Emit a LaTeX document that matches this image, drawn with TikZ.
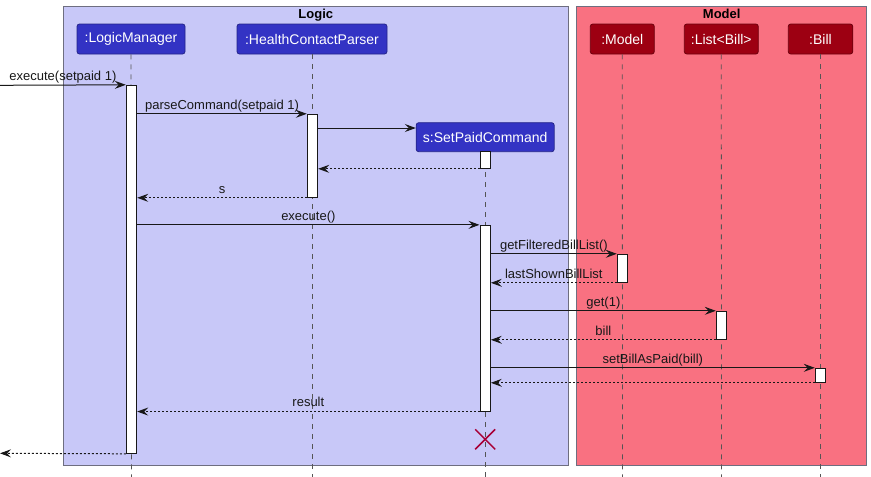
\documentclass[tikz,border=0pt]{standalone}
\usepackage{fontspec}
\setmainfont{Liberation Sans}
\usetikzlibrary{arrows.meta}
\definecolor{logicbg}{HTML}{C8C8F8}
\definecolor{modelbg}{HTML}{F97181}
\definecolor{logicpart}{HTML}{3333C4}
\definecolor{modelpart}{HTML}{9D0012}
\definecolor{boxline}{HTML}{6E6E80}
\definecolor{ink}{HTML}{181818}
\definecolor{lifeline}{HTML}{555555}
\definecolor{destroyc}{HTML}{A80036}
\tikzset{
  grpbox/.style={draw=boxline, line width=1pt},
  grptitle/.style={font=\bfseries\fontsize{13}{15}\selectfont, text=black, inner sep=0pt,
    text height=9.5pt, text depth=0pt},
  part/.style={rectangle, rounded corners=2.5pt, draw=#1!70!black, fill=#1, text=white,
    font=\fontsize{14}{16}\selectfont, minimum height=30pt, inner sep=0pt, line width=0.8pt},
  lifel/.style={draw=lifeline, dash pattern=on 5pt off 5pt, line width=0.8pt},
  actbar/.style={rectangle, draw=ink, fill=white, minimum width=10.4pt, inner sep=0pt, line width=1pt},
  msg/.style={draw=ink, line width=1pt, -{Stealth[length=11pt,width=8pt,inset=4pt]}},
  ret/.style={msg, dash pattern=on 2pt off 2pt},
  lbl/.style={font=\fontsize{13}{15}\selectfont, text=ink, inner sep=0pt, anchor=south,
    text height=9.5pt, text depth=2.8pt, yshift=1.3pt},
}
\begin{document}
\begin{tikzpicture}[x=1pt, y=-1pt]
\useasboundingbox (0,0) rectangle (871,477);
% group boxes
\draw[grpbox, fill=logicbg] (63.3,6) rectangle (568.3,465);
\draw[grpbox, fill=modelbg] (576.7,6) rectangle (866.7,465);
\node[grptitle] (tlogic) at (315.8,13.4) {Logic};
\node[grptitle] (tmodel) at (721.7,13.4) {Model};
% participants
\node[part=logicpart, minimum width=108pt] (lm) at (131,39) {:LogicManager};
\node[part=logicpart, minimum width=150pt] (hcp) at (312,39) {:HealthContactParser};
\node[part=logicpart, minimum width=138pt, minimum height=29pt] (spc) at (485.2,137.2) {s:SetPaidCommand};
\node[part=modelpart, minimum width=64pt] (mdl) at (622.3,39) {:Model};
\node[part=modelpart, minimum width=74pt] (lst) at (721.3,39) {:List<Bill>};
\node[part=modelpart, minimum width=64.5pt] (bll) at (820.5,39) {:Bill};
% lifeline ends
\coordinate (lmEnd) at (131.5,477);
\coordinate (hcpEnd) at (312,477);
\coordinate (spcEnd) at (485.2,477);
\coordinate (mdlEnd) at (622.5,477);
\coordinate (lstEnd) at (721.5,477);
\coordinate (bllEnd) at (820.5,477);
\draw[lifel] (lm.south) -- (lmEnd);
\draw[lifel] (hcp.south) -- (hcpEnd);
\draw[lifel] (spc.south) -- (spcEnd);
\draw[lifel] (mdl.south) -- (mdlEnd);
\draw[lifel] (lst.south) -- (lstEnd);
\draw[lifel] (bll.south) -- (bllEnd);
% activation bars
\node[actbar, minimum height=368pt] (lmA) at (131.5,269.3) {};
\node[actbar, minimum height=83pt] (hcpA) at (312.5,155.8) {};
\node[actbar, minimum height=16.6pt] (spcA) at (485.2,160) {};
\node[actbar, minimum height=185.7pt] (spcB) at (485.2,318.2) {};
\node[actbar, minimum height=28pt] (mdlA) at (622.5,268.3) {};
\node[actbar, minimum height=28pt] (lstA) at (721.5,325.3) {};
\node[actbar, minimum height=14pt] (bllA) at (820.5,375.3) {};
% free ends
\coordinate (inStart) at (0,85.3);
\coordinate (outEnd) at (0,453.3);
\coordinate (createY) at (0,128);
% messages
\draw[msg] (inStart) -- (lmA.north west) node[lbl, midway] {execute(setpaid 1)};
\draw[msg] (lmA.east |- hcpA.north) -- (hcpA.north west) node[lbl, midway] {parseCommand(setpaid 1)};
\draw[msg] (hcpA.east |- createY) -- (spc.west |- createY);
\draw[ret] (spcA.south west) -- (hcpA.east |- spcA.south);
\draw[ret] (hcpA.south west) -- (lmA.east |- hcpA.south) node[lbl, midway] {s};
\draw[msg] (lmA.east |- spcB.north) -- (spcB.north west) node[lbl, midway] {execute()};
\draw[msg] (spcB.east |- mdlA.north) -- (mdlA.north west) node[lbl, midway] {getFilteredBillList()};
\draw[ret] (mdlA.south west) -- (spcB.east |- mdlA.south) node[lbl, midway] {lastShownBillList};
\draw[msg] (spcB.east |- lstA.north) -- (lstA.north west) node[lbl, midway] {get(1)};
\draw[ret] (lstA.south west) -- (spcB.east |- lstA.south) node[lbl, midway] {bill};
\draw[msg] (spcB.east |- bllA.north) -- (bllA.north west) node[lbl, midway] {setBillAsPaid(bill)};
\draw[ret] (bllA.south west) -- (spcB.east |- bllA.south);
\draw[ret] (spcB.south west) -- (lmA.east |- spcB.south) node[lbl, midway] {result};
\draw[ret] (lmA.south west) -- (outEnd);
% destroy
\coordinate (xc) at (485.2,439.3);
\draw[destroyc, line width=1.5pt] ([shift={(-10,-10)}]xc) -- ([shift={(10,10)}]xc)
  ([shift={(-10,10)}]xc) -- ([shift={(10,-10)}]xc);
\end{tikzpicture}
\end{document}
